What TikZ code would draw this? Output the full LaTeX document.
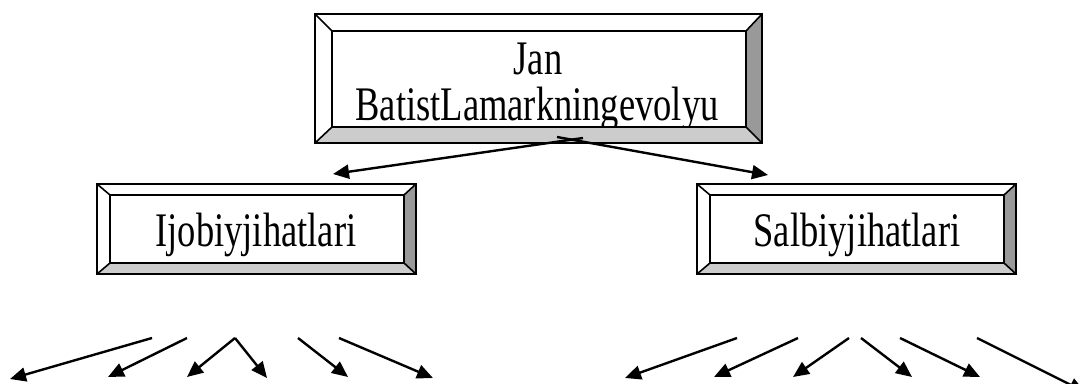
\documentclass[tikz,border=0pt]{standalone}
\usepackage{fontspec}
\setmainfont{Liberation Serif}
\usetikzlibrary{arrows.meta}
\definecolor{bevdark}{HTML}{999999}
\definecolor{bevlight}{HTML}{CCCCCC}
\tikzset{
  bevline/.style={line width=1.6pt, line join=miter},
  conn/.style={line width=2.4pt, -{Triangle[length=16pt,width=14pt]}},
  lbl/.style={font=\fontsize{36.5}{44}\selectfont, inner sep=0pt, anchor=base},
  boxnode/.style={inner sep=0pt, draw=none}
}
\newcommand\tall[1]{\scalebox{1}[1.32]{#1}}
\newcommand\bvbox[9]{%
  % #1 name, #2 x1, #3 y1, #4 x2, #5 y2, #6 ix1, #7 iy1, #8 ix2, #9 iy2
  \fill[white] (#2,#3) rectangle (#4,#5);
  \fill[bevlight] (#2,#5) -- (#4,#5) -- (#8,#9) -- (#6,#9) -- cycle;
  \fill[bevdark] (#4,#3) -- (#4,#5) -- (#8,#9) -- (#8,#7) -- cycle;
  \draw[bevline] (#2,#3) rectangle (#4,#5);
  \draw[bevline] (#6,#7) rectangle (#8,#9);
  \draw[bevline] (#2,#3) -- (#6,#7) (#4,#3) -- (#8,#7) (#4,#5) -- (#8,#9) (#2,#5) -- (#6,#9);
  \path (#2,#3) -- (#4,#5) node[midway, boxnode, minimum width={(#4-#2)*1pt}, minimum height={(#5-#3)*1pt}] (#1) {};
}
\begin{document}
\begin{tikzpicture}[x=1pt,y=-1pt]
\useasboundingbox (0,0) rectangle (1081,383);
\clip (0,0) rectangle (1081,383);
% boxes
\bvbox{top}{315}{14}{762}{143}{332}{31}{746}{127}
\begin{scope}
  \clip (332,31) rectangle (746,127);
  \node[lbl] (t1) at (538,74) {\tall{Jan}};
  \node[lbl] (t2) at (537,120) {\tall{BatistLamarkningevolyu}};
\end{scope}
\bvbox{pos}{97}{184}{416}{274}{110}{195}{404}{263}
\node[lbl] (posl) at (256,246) {\tall{Ijobiyjihatlari}};
\bvbox{neg}{697}{184}{1016}{274}{710}{195}{1004}{263}
\node[lbl] (negl) at (857,246) {\tall{Salbiyjihatlari}};
% top connectors
\coordinate (sl) at (583,138);
\coordinate (sr) at (557,137);
\coordinate (el) at (333,174);
\coordinate (er) at (768,175);
\draw[conn] (sl) -- (el);
\draw[conn] (sr) -- (er);
% bottom-left fan
\coordinate (a1) at (152,338); \coordinate (b1) at (10,379);
\coordinate (a2) at (187,338); \coordinate (b2) at (108,377);
\coordinate (a3) at (235,338); \coordinate (b3) at (187,377);
\coordinate (b4) at (267,378);
\coordinate (a5) at (298,338); \coordinate (b5) at (348,377);
\coordinate (a6) at (339,338); \coordinate (b6) at (433,378);
\draw[conn] (a1) -- (b1);
\draw[conn] (a2) -- (b2);
\draw[conn] (a3) -- (b3);
\draw[conn] (a3) -- (b4);
\draw[conn] (a5) -- (b5);
\draw[conn] (a6) -- (b6);
% bottom-right fan
\coordinate (c1) at (737,338); \coordinate (d1) at (625,378);
\coordinate (c2) at (798,338); \coordinate (d2) at (714,377);
\coordinate (c3) at (849,338); \coordinate (d3) at (793,377);
\coordinate (c4) at (861,338); \coordinate (d4) at (912,377);
\coordinate (c5) at (900,338); \coordinate (d5) at (980,377);
\coordinate (c6) at (977,338); \coordinate (d6) at (1085,392);
\draw[conn] (c1) -- (d1);
\draw[conn] (c2) -- (d2);
\draw[conn] (c3) -- (d3);
\draw[conn] (c4) -- (d4);
\draw[conn] (c5) -- (d5);
\draw[conn] (c6) -- (d6);
\end{tikzpicture}
\end{document}
